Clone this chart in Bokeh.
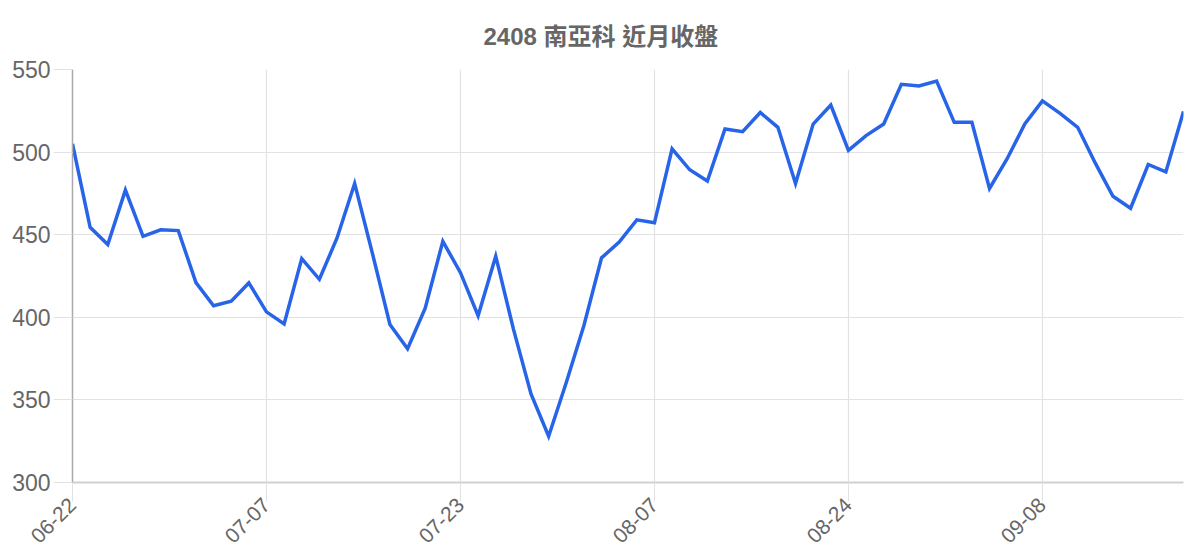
from bokeh.plotting import figure
from bokeh.models import Range1d, FixedTicker
from bokeh.embed import file_html
from bokeh.resources import INLINE

title_text = "2408 南亞科 近月收盤"
tick_positions = [0, 11, 22, 33, 44, 55]
tick_labels = ["06-22", "07-07", "07-23", "08-07", "08-24", "09-08"]
y_ticks = [300, 350, 400, 450, 500, 550]

close = [505, 454.5, 444, 477, 449, 453, 452.5, 421, 407, 409.7, 420.8, 403.3,
         396, 435.5, 423, 448, 481, 439, 395.7, 381, 405.5, 446, 427, 401,
         437, 393, 353.6, 328, 360.5, 395, 436, 445.5, 459, 457.2, 502, 489.3,
         482.5, 514, 512.4, 524, 515, 481, 517, 528.5, 501, 510, 517, 541,
         540, 543, 518, 518, 478, 496, 517, 531, 523.4, 515, 493.3, 473.3,
         466, 492.5, 488, 524.6]
idx = list(range(len(close)))

FONT = "Liberation Sans, Noto Sans CJK TC, sans-serif"
TXT = "#666666"
GRID = "#e2e2e2"

p = figure(width=1192, height=552, output_backend="svg", toolbar_location=None,
           x_range=Range1d(0, len(close) - 1), y_range=Range1d(300, 550),
           min_border_left=72, min_border_right=9, min_border_top=68,
           min_border_bottom=68, title=title_text)
p.outline_line_color = None
p.background_fill_color = "white"
p.border_fill_color = "white"

p.title.align = "left"
p.title.text_font = FONT
p.title.text_font_size = "24px"
p.title.text_font_style = "bold"
p.title.text_color = TXT
p.title.standoff = 40
p.title.offset = 411

p.line(idx, close, line_color="#2864e8", line_width=3.5, line_join="miter")

p.xaxis.ticker = FixedTicker(ticks=tick_positions)
p.xaxis.major_label_overrides = {t: l for t, l in zip(tick_positions, tick_labels)}
p.xaxis.major_label_orientation = 0.785398
p.xaxis.major_label_text_font = FONT
p.xaxis.major_label_text_font_size = "21px"
p.xaxis.major_label_text_color = TXT
p.xaxis.axis_line_color = "#d0d0d0"
p.xaxis.axis_line_width = 2
p.xaxis.major_tick_line_color = GRID
p.xaxis.major_tick_in = 0
p.xaxis.major_tick_out = 19
p.xaxis.minor_tick_line_color = None
p.xaxis.major_label_standoff = 0

p.yaxis.ticker = FixedTicker(ticks=y_ticks)
p.yaxis.major_label_text_font = FONT
p.yaxis.major_label_text_font_size = "23px"
p.yaxis.major_label_text_color = TXT
p.yaxis.axis_line_color = "#aaaaaa"
p.yaxis.axis_line_width = 1.5
p.yaxis.major_tick_line_color = GRID
p.yaxis.major_tick_in = 0
p.yaxis.major_tick_out = 19
p.yaxis.minor_tick_line_color = None
p.yaxis.major_label_standoff = 3

p.xgrid.ticker = FixedTicker(ticks=tick_positions)
p.ygrid.ticker = FixedTicker(ticks=y_ticks)
p.grid.grid_line_color = GRID
p.grid.grid_line_width = 1.2

open("out.html", "w").write(file_html(p, INLINE))
